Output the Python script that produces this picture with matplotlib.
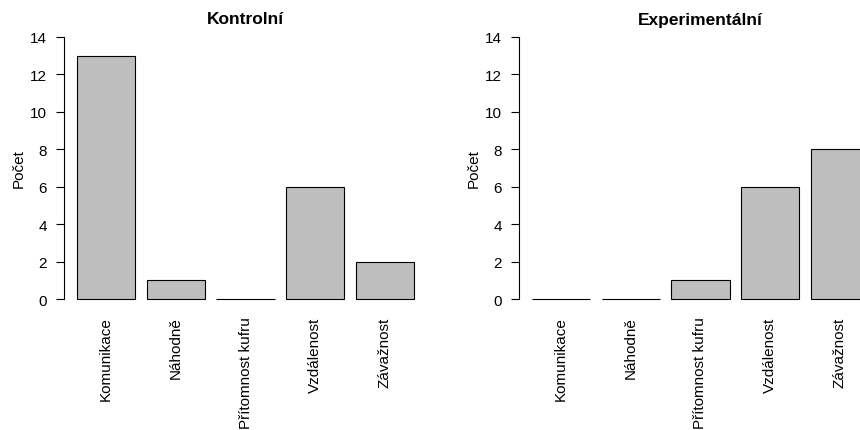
import numpy as np
import matplotlib.pyplot as plt

plt.rcParams['font.family'] = ['Liberation Sans', 'DejaVu Sans']

categories = ["Komunikace", "Náhodně", "Přítomnost kufru", "Vzdálenost", "Závažnost"]
kontrolni = [13, 1, 0, 6, 2]
experimentalni = [0, 0, 1, 6, 8]
titles = ["Kontrolní", "Experimentální"]
yticks = [0, 2, 4, 6, 8, 10, 12, 14]

W, H = 860, 431
fig = plt.figure(figsize=(W / 100, H / 100), dpi=100)

# R barplot geometry: width 1, space 0.2
x = 0.2 + np.arange(len(categories)) * 1.2 + 0.5
xlim = (-0.032, 6.232)
ylim = (-0.56, 14.56)

panels = [(63.5, kontrolni, titles[0]), (518.5, experimentalni, titles[1])]
for left_px, values, title in panels:
    ax = fig.add_axes([left_px / W, 1 - 310.5 / H, 364 / W, 283 / H])
    ax.bar(x, values, width=1.0, color="#bebebe", edgecolor="black", linewidth=0.8)
    ax.set_xlim(*xlim)
    ax.set_ylim(*ylim)
    for s in ["top", "right", "bottom"]:
        ax.spines[s].set_visible(False)
    ax.spines["left"].set_bounds(0, 14)
    ax.spines["left"].set_position(("data", xlim[0]))
    ax.spines["left"].set_linewidth(0.8)
    ax.set_yticks(yticks)
    ax.tick_params(axis="y", length=6, width=0.8, pad=6, labelsize=11)
    ax.set_xticks(x)
    ax.set_xticklabels(categories, rotation=90, va="top", ha="center", fontsize=11)
    ax.tick_params(axis="x", length=0, pad=5)
    ax.set_ylabel("Počet", fontsize=11)
    ax.yaxis.set_label_coords(-37.5 / 364, 0.5)
    ax.set_title(title, fontsize=12.5, fontweight="bold", pad=1)

fig.savefig("out.png", dpi=100)
